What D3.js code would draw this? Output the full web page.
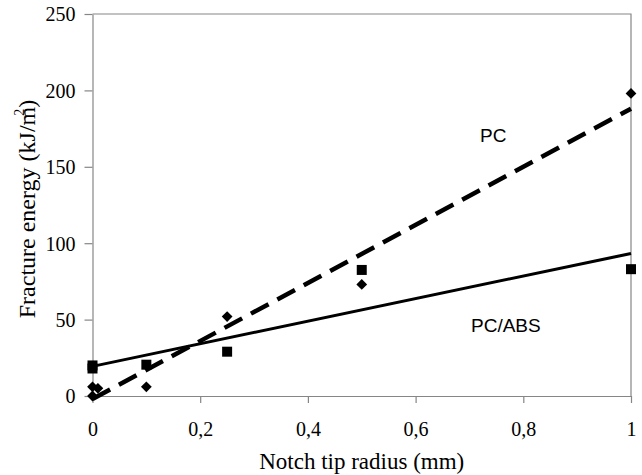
<!DOCTYPE html>
<html>
<head>
<meta charset="utf-8">
<script src="https://cdn.jsdelivr.net/npm/d3@7"></script>
<style>
  body { margin: 0; background: white; }
</style>
</head>
<body>
<div id="main-section"></div>
<script>
// values
const pcRadius     = [0, 0, 0.01, 0.1, 0.25, 0.5, 1];
const pcEnergy     = [0, 6, 5, 6, 52, 73, 198];
const pcAbsRadius  = [0, 0, 0.1, 0.25, 0.5, 1];
const pcAbsEnergy  = [18, 20, 20.5, 29, 82.5, 83];
// trendline end points (x = 0 and x = 1)
const pcTrend      = [[0, -2], [1, 188]];
const pcAbsTrend   = [[0, 19.4], [1, 93.3]];
const xTicks       = [0, 0.2, 0.4, 0.6, 0.8, 1];
const yTicks       = [0, 50, 100, 150, 200, 250];

const width = 642, height = 475;
const plotLeft = 92.5, plotRight = 631, plotTop = 14, plotBottom = 396;
const serif = "'Liberation Serif', 'Times New Roman', serif";
const sans = "'Liberation Sans', Arial, sans-serif";

const svg = d3.select("#main-section")
  .append("svg")
    .attr("width", width)
    .attr("height", height);

const x = d3.scaleLinear().domain([0, 1]).range([plotLeft, plotRight]);
const y = d3.scaleLinear().domain([0, 250]).range([plotBottom, plotTop]);

const axisColor = "#868686";

// box: top and right edges
svg.append("path")
  .attr("d", "M" + x(0) + "," + y(250) + "H" + x(1) + "V" + y(0))
  .attr("fill", "none")
  .attr("stroke", axisColor)
  .attr("stroke-width", 1.2);

const xAxis = svg.append("g")
  .attr("transform", "translate(0," + y(0) + ")")
  .call(d3.axisBottom(x)
    .tickValues(xTicks)
    .tickSize(7)
    .tickSizeOuter(0)
    .tickPadding(19)
    .tickFormat(function(d) { return String(d).replace(".", ","); }));

const yAxis = svg.append("g")
  .attr("transform", "translate(" + x(0) + ",0)")
  .call(d3.axisLeft(y)
    .tickValues(yTicks)
    .tickSize(8)
    .tickSizeOuter(0)
    .tickPadding(9));

[xAxis, yAxis].forEach(function(ax) {
  ax.attr("font-family", serif).attr("font-size", 20);
  ax.select(".domain").attr("stroke", axisColor).attr("stroke-width", 1.2);
  ax.selectAll(".tick line").attr("stroke", axisColor).attr("stroke-width", 1.2);
  ax.selectAll(".tick text").attr("fill", "black");
});
yAxis.selectAll(".tick text").attr("dy", "0.34em");

// trendlines
const line = d3.line()
  .x(function(d) { return x(d[0]); })
  .y(function(d) { return y(d[1]); });

svg.append("path")
  .datum(pcAbsTrend)
  .attr("d", line)
  .attr("fill", "none")
  .attr("stroke", "black")
  .attr("stroke-width", 3);

svg.append("path")
  .datum(pcTrend)
  .attr("d", line)
  .attr("fill", "none")
  .attr("stroke", "black")
  .attr("stroke-width", 4.5)
  .attr("stroke-dasharray", "20,10");

// markers
const diamond = d3.symbol().type(d3.symbolSquare).size(58);
const square = d3.symbol().type(d3.symbolSquare).size(100);

svg.selectAll(".pc")
  .data(pcRadius.map(function(r, i) { return [r, pcEnergy[i]]; }))
  .enter()
  .append("path")
    .attr("class", "pc")
    .attr("d", diamond)
    .attr("fill", "black")
    .attr("transform", function(d) { return "translate(" + x(d[0]) + "," + y(d[1]) + ") rotate(45)"; });

svg.selectAll(".pcabs")
  .data(pcAbsRadius.map(function(r, i) { return [r, pcAbsEnergy[i]]; }))
  .enter()
  .append("path")
    .attr("class", "pcabs")
    .attr("d", square)
    .attr("fill", "black")
    .attr("transform", function(d) { return "translate(" + x(d[0]) + "," + y(d[1]) + ")"; });

// series labels
svg.append("text")
  .attr("x", 480)
  .attr("y", 142)
  .attr("font-family", sans)
  .attr("font-size", 19)
  .text("PC");

svg.append("text")
  .attr("x", 471)
  .attr("y", 332)
  .attr("font-family", sans)
  .attr("font-size", 19)
  .text("PC/ABS");

// axis titles
svg.append("text")
  .attr("x", (plotLeft + plotRight) / 2)
  .attr("y", 469)
  .attr("text-anchor", "middle")
  .attr("font-family", serif)
  .attr("font-size", 23)
  .text("Notch tip radius (mm)");

const yTitle = svg.append("text")
  .attr("transform", "translate(35,209) rotate(-90)")
  .attr("text-anchor", "middle")
  .attr("font-family", serif)
  .attr("font-size", 24);
yTitle.append("tspan").text("Fracture energy (kJ/m");
yTitle.append("tspan").attr("dx", -9).attr("dy", -11).attr("font-size", 14).text("2");
yTitle.append("tspan").attr("dx", 1).attr("dy", 11).text(")");
</script>
</body>
</html>
